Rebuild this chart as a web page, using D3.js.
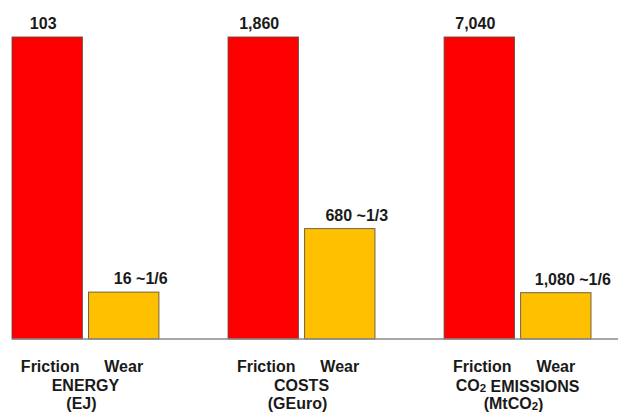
<!DOCTYPE html>
<html>
<head>
<meta charset="utf-8">
<script src="https://cdn.jsdelivr.net/npm/d3@7"></script>
<style>
  html, body { margin: 0; padding: 0; background: #fff; }
  svg text { font-family: "Liberation Sans", Arial, sans-serif; font-weight: bold; fill: #1a1a1a; }
</style>
</head>
<body>
<svg id="chart" width="618" height="412"></svg>
<script>
// Friction vs. wear, per impact category
const groups = ["ENERGY", "COSTS", "CO2 EMISSIONS"];
const units = ["(EJ)", "(GEuro)", "(MtCO2)"];
const series = ["Friction", "Wear"];
const frictionValues = [103, 1860, 7040];
const wearValues = [16, 680, 1080];
const wearShares = ["~1/6", "~1/3", "~1/6"];

const colors = { Friction: "#ff0000", Wear: "#ffc000" };

const width = 618, height = 412;
const baseline = 339, plotTop = 37;

const svg = d3.select("#chart");

const x0 = d3.scaleBand().domain(groups).range([12, 591]).paddingInner(0.32).paddingOuter(0);
const x1 = d3.scaleBand().domain(series).range([0, x0.bandwidth()]).paddingInner(0.08);

// each category has its own scale, friction fills the full height
const yScales = groups.map((g, i) =>
  d3.scaleLinear().domain([0, frictionValues[i]]).range([baseline, plotTop]));

const fmt = d3.format(",");

const rows = [];
groups.forEach((g, i) => {
  rows.push({ group: g, i, series: "Friction", value: frictionValues[i], label: fmt(frictionValues[i]), dx: -4 });
  rows.push({ group: g, i, series: "Wear", value: wearValues[i], label: fmt(wearValues[i]) + " " + wearShares[i], dx: 17 });
});

// bars
svg.append("g").selectAll("rect").data(rows).join("rect")
  .attr("x", d => x0(d.group) + x1(d.series))
  .attr("y", d => yScales[d.i](d.value))
  .attr("width", x1.bandwidth())
  .attr("height", d => baseline - yScales[d.i](d.value))
  .attr("fill", d => colors[d.series])
  .attr("stroke", "#5a4a40")
  .attr("stroke-opacity", 0.85)
  .attr("stroke-width", 1);

// baseline
svg.append("line")
  .attr("x1", x0.range()[0]).attr("x2", width)
  .attr("y1", baseline).attr("y2", baseline)
  .attr("stroke", "#8a8a8a").attr("stroke-width", 1.5);

// value labels
svg.append("g").selectAll("text").data(rows).join("text")
  .attr("x", d => x0(d.group) + x1(d.series) + x1.bandwidth() / 2 + d.dx)
  .attr("y", d => yScales[d.i](d.value) - 8)
  .attr("text-anchor", "middle")
  .attr("font-size", 16)
  .text(d => d.label);

// series names under each bar
svg.append("g").selectAll("text").data(rows).join("text")
  .attr("x", d => x0(d.group) + x1(d.series) + x1.bandwidth() / 2 + (d.series === "Friction" ? 3 : 0))
  .attr("y", 372)
  .attr("text-anchor", "middle")
  .attr("font-size", 16)
  .text(d => d.series);

// writes text, rendering the digit after "CO" as a subscript
function withSubscript(sel, str) {
  const parts = str.split(/(CO)2/);
  parts.forEach((p, k) => {
    if (p === "") return;
    sel.append("tspan").text(p);
    if (p === "CO" && k < parts.length - 1) {
      sel.append("tspan").attr("font-size", 11.5).attr("dy", 1).text("2");
      sel.append("tspan").attr("dy", -1).text("");
    }
  });
}

// category names and units
const cat = svg.append("g").selectAll("g").data(groups).join("g");
cat.append("text")
  .attr("x", d => x0(d) + x0.bandwidth() / 2)
  .attr("y", 391)
  .attr("text-anchor", "middle")
  .attr("font-size", 16)
  .each(function(d) { withSubscript(d3.select(this), d); });
cat.append("text")
  .attr("x", d => x0(d) + x0.bandwidth() / 2 - 4)
  .attr("y", 409)
  .attr("text-anchor", "middle")
  .attr("font-size", 16)
  .each(function(d, i) { withSubscript(d3.select(this), units[i]); });
</script>
</body>
</html>
